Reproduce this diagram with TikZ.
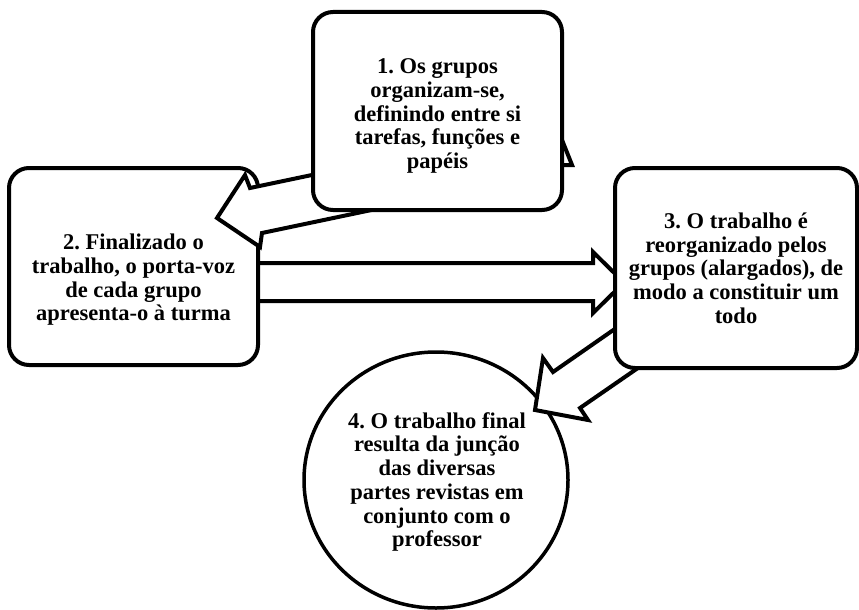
\documentclass[tikz,border=0pt]{standalone}
\usepackage{fontspec}
\usetikzlibrary{shapes.geometric}
\setmainfont{Liberation Serif}
\frenchspacing
\begin{document}
\begin{tikzpicture}[x=1pt,y=-1pt,
  boxshape/.style={draw=black,line width=4pt,rounded corners=20pt,fill=white,inner sep=0pt},
  txt/.style={align=center,font=\fontsize{22.5}{23.7}\selectfont\bfseries\frenchspacing,inner sep=0pt},
  blockarrow/.style={draw=black,line width=4pt,fill=white,line join=miter}]
\useasboundingbox (0,0) rectangle (859,610);
% circle 4
\node[draw=black,line width=3.5pt,ellipse,minimum width=264pt,minimum height=256pt,inner sep=0pt,fill=white] (c4) at (436,480) {};
\node[txt] (t4) at (437,482) {4. O trabalho final\\resulta da junção\\das diversas\\partes revistas em\\conjunto com o\\professor};
% arrow 2 -> 3
\draw[blockarrow] (250,263) -- (593,263) -- (593,252) -- (624,282.5) -- (593,313) -- (593,301) -- (250,301) -- cycle;
% arrow 3 -> 4
\draw[blockarrow] (655,301) -- (553,372) -- (543,358) -- (535,410) -- (588,420) -- (580,408) -- (677,341) -- cycle;
% box 2
\node[boxshape,minimum width=249pt,minimum height=197pt] (b2) at (133.5,266.5) {};
\node[txt] (t2) at (133.5,280) {2. Finalizado o\\trabalho, o porta-voz\\de cada grupo\\apresenta-o à turma};
% arrow 1 -> 2
\draw[blockarrow] (400,156.5) -- (250,188) -- (245,175) -- (217,218) -- (260,247) -- (262,233) -- (400,204) -- cycle;
% hidden arrow head peeking behind box 1
\draw[blockarrow] (550,110) -- (572,165) -- (550,165) -- cycle;
% box 1
\node[boxshape,minimum width=249pt,minimum height=198pt] (b1) at (437.5,111) {};
\node[txt] (t1) at (437.5,116) {1. Os grupos\\organizam-se,\\definindo entre si\\tarefas, funções e\\papéis};
% box 3
\node[boxshape,minimum width=242pt,minimum height=200pt] (b3) at (736,268) {};
\node[txt] (t3) at (736,268) {3. O trabalho é\\reorganizado pelos\\grupos (alargados), de\\modo a constituir um\\todo};
\end{tikzpicture}
\end{document}
